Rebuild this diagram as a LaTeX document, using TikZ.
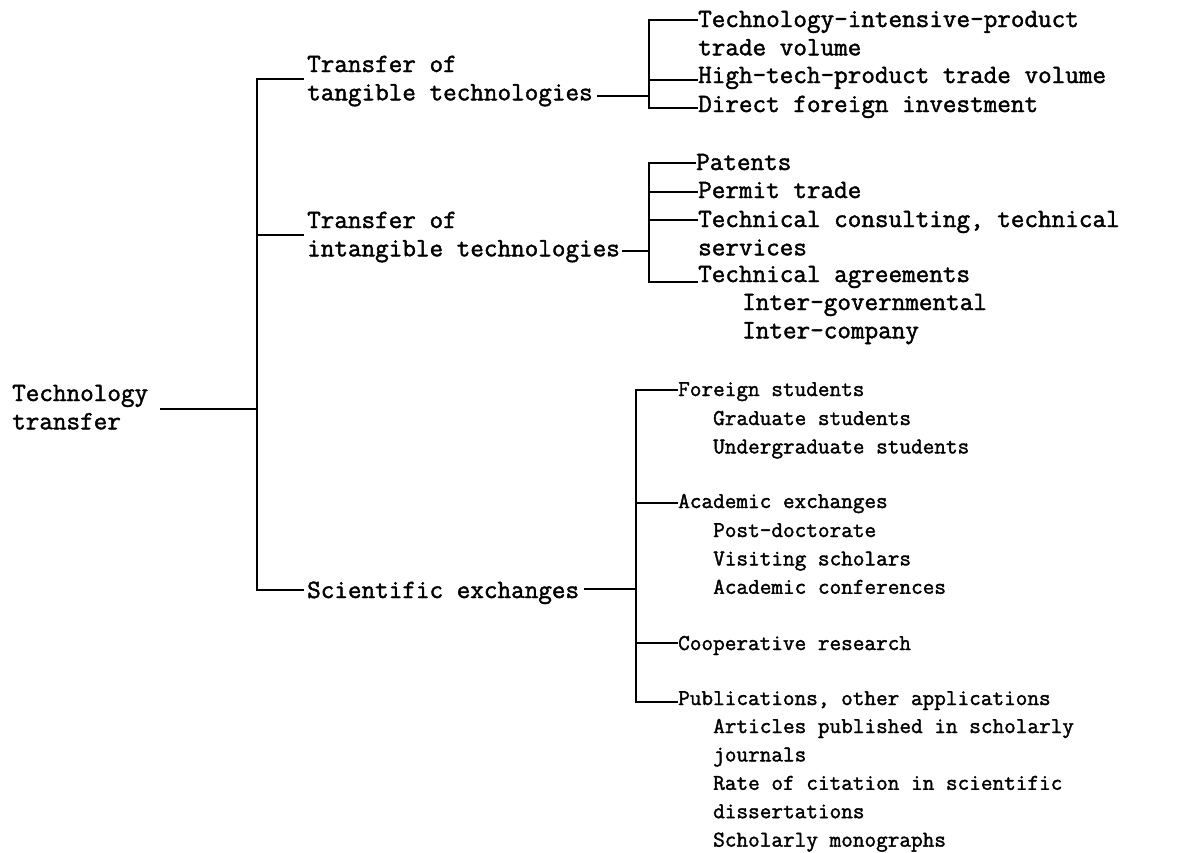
\documentclass[tikz,border=0pt]{standalone}
\usepackage{fontspec}
\newfontfamily\tw[FakeBold=1.6]{Latin Modern Mono}
\newcommand{\ml}[1]{\begin{tabular}[t]{@{}l@{}}#1\end{tabular}}
\tikzset{
  lbl/.style={anchor=base west, inner sep=0pt, font=\tw\fontsize{26.4pt}{28.3pt}\selectfont},
  sml/.style={anchor=base west, inner sep=0pt, font=\tw\fontsize{22.6pt}{28.4pt}\selectfont},
  ln/.style={line width=2.6pt, line cap=rect, line join=miter}
}
\begin{document}
\begin{tikzpicture}[x=1pt,y=-1pt]
\useasboundingbox (0,0) rectangle (1180,852);
% text nodes
\node[lbl] (root) at (12,401) {\ml{Technology\\transfer}};
\node[lbl] (t1) at (307,72) {\ml{Transfer of\\tangible technologies}};
\node[lbl] (t2) at (307,228) {\ml{Transfer of\\intangible technologies}};
\node[lbl] (t3) at (307,598) {Scientific exchanges};
% tangible items
\node[lbl] (p1) at (698,27) {\ml{Technology-intensive-product\\trade volume}};
\node[lbl] (p2) at (698,83) {High-tech-product trade volume};
\node[lbl] (p3) at (698,112) {Direct foreign investment};
% intangible items
\node[lbl] (q1) at (696,170) {Patents};
\node[lbl] (q2) at (698,198) {Permit trade};
\node[lbl] (q3) at (698,227) {\ml{Technical consulting, technical\\services}};
\node[lbl] (q4) at (698,282) {Technical agreements};
\node[lbl] (q5) at (742,310) {\ml{Inter-governmental\\Inter-company}};
% scientific items
\node[sml] (r1) at (678,396) {Foreign students};
\node[sml] (r1s) at (713,425) {\ml{Graduate students\\Undergraduate students}};
\node[sml] (r2) at (678,508) {Academic exchanges};
\node[sml] (r2s) at (713,537) {\ml{Post-doctorate\\Visiting scholars\\Academic conferences}};
\node[sml] (r3) at (678,650) {Cooperative research};
\node[sml] (r4) at (678,705) {Publications, other applications};
\node[sml] (r4s) at (713,733) {\ml{Articles published in scholarly\\journals\\Rate of citation in scientific\\dissertations\\Scholarly monographs}};
% junctions
\coordinate (a0) at (257,409);
\coordinate (a1) at (257,79);
\coordinate (a2) at (257,235);
\coordinate (a3) at (257,590);
\coordinate (b1) at (649,20);
\coordinate (b2) at (649,80);
\coordinate (b3) at (649,108);
\coordinate (bs) at (649,96);
\coordinate (c1) at (649,163);
\coordinate (c2) at (649,192);
\coordinate (c3) at (649,220);
\coordinate (c4) at (649,282);
\coordinate (cs) at (649,251);
\coordinate (d1) at (636,390);
\coordinate (d2) at (636,503);
\coordinate (d3) at (636,643);
\coordinate (d4) at (636,702);
\coordinate (ds) at (636,589);
% main bracket
\draw[ln] ([xshift=13pt]root.east |- a0) -- (a0);
\draw[ln] ([xshift=-4pt]t1.west |- a1) -- (a1) -- (a3) -- ([xshift=-4pt]t3.west |- a3);
\draw[ln] (a2) -- ([xshift=-4pt]t2.west |- a2);
% tangible bracket
\draw[ln] ([xshift=5pt]t1.east |- bs) -- (bs);
\draw[ln] ([xshift=-1pt]p1.west |- b1) -- (b1) -- (b3) -- ([xshift=-1pt]p3.west |- b3);
\draw[ln] (b2) -- ([xshift=-1pt]p2.west |- b2);
% intangible bracket
\draw[ln] ([xshift=3pt]t2.east |- cs) -- (cs);
\draw[ln] ([xshift=-1pt]q1.west |- c1) -- (c1) -- (c4) -- ([xshift=-1pt]q4.west |- c4);
\draw[ln] (c2) -- ([xshift=-1pt]q2.west |- c2);
\draw[ln] (c3) -- ([xshift=-1pt]q3.west |- c3);
% scientific bracket
\draw[ln] ([xshift=6pt]t3.east |- ds) -- (ds);
\draw[ln] ([xshift=-1pt]r1.west |- d1) -- (d1) -- (d4) -- ([xshift=-1pt]r4.west |- d4);
\draw[ln] (d2) -- ([xshift=-1pt]r2.west |- d2);
\draw[ln] (d3) -- ([xshift=-1pt]r3.west |- d3);
\end{tikzpicture}
\end{document}
